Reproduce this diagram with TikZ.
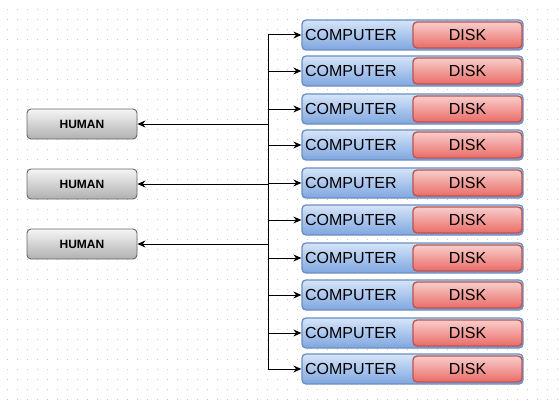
\documentclass[tikz,border=0pt]{standalone}
\usepackage{fontspec}
\setmainfont{Liberation Sans}
\usetikzlibrary{arrows.meta}
\definecolor{dotgray}{HTML}{C8C8C8}
\definecolor{compTop}{HTML}{D6E5F9}
\definecolor{compBottom}{HTML}{7EA6E0}
\definecolor{compLine}{HTML}{6C8EBF}
\definecolor{diskTop}{HTML}{F8CECC}
\definecolor{diskBottom}{HTML}{EA6B66}
\definecolor{diskLine}{HTML}{B85450}
\definecolor{humanTop}{HTML}{F5F5F5}
\definecolor{humanBottom}{HTML}{B0B0B0}
\definecolor{humanLine}{HTML}{666666}
\begin{document}
\begin{tikzpicture}[x=1pt,y=-1pt,
  computer/.style={draw=compLine, line width=1.3pt, rounded corners=4pt,
    top color=compTop, bottom color=compBottom, minimum height=30pt,
    text width=215pt, inner xsep=3pt, align=left,
    font=\fontsize{16}{16}\selectfont},
  disk/.style={draw=diskLine, line width=1.3pt, rounded corners=4pt,
    top color=diskTop, bottom color=diskBottom, minimum width=109pt,
    minimum height=26pt, font=\fontsize{16}{16}\selectfont},
  human/.style={draw=humanLine, line width=0.9pt, rounded corners=4pt,
    top color=humanTop, bottom color=humanBottom, minimum width=110pt,
    minimum height=30pt, font=\bfseries\fontsize{12}{12}\selectfont},
  link/.style={line width=1pt, -{Stealth[length=8pt,width=7pt]}}]
\useasboundingbox (0,0) rectangle (559,404);
%\draw[dotted] (0,0) grid (559,404);
\foreach \x in {7,17,...,557}{
  \foreach \y in {9,19,...,399}{
    \fill[dotgray] (\x,\y) rectangle ++(1,1);
  }
}
\foreach \y [count=\i] in {35,71,109,145,183,220,258,295,333,369}{
  \node[computer] (c\i) at (412.5,\y) {COMPUTER};
  \node[disk] (d\i) at (467.5,\y) {DISK};
  \coordinate (b\i) at (268,\y);
  \draw[link] (b\i) -- (c\i);
}
\draw[line width=1pt] (b1) -- (b10);
\foreach \y [count=\i] in {124,184,244}{
  \node[human] (h\i) at (82,\y) {HUMAN};
  \coordinate (t\i) at (268,\y);
  \draw[link] (t\i) -- (h\i);
}
\end{tikzpicture}
\end{document}
